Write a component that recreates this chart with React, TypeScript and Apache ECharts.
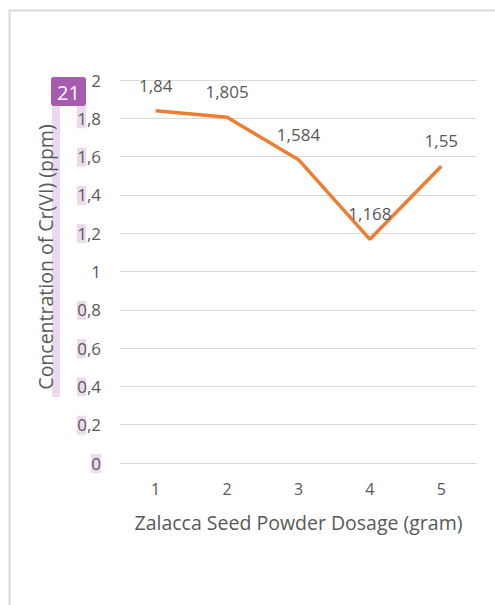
import React, { useEffect, useRef } from "react";
import * as echarts from "echarts";

const categories = ["1", "2", "3", "4", "5"];
const concentration = [1.84, 1.805, 1.584, 1.168, 1.55];
const highlightedTicks = [0.2, 0.4, 0.6, 0.8, 1.2, 1.4, 1.6, 1.8];
const xTitle = "Zalacca Seed Powder Dosage (gram)";
const yTitle = "Concentration of Cr(VI) (ppm)";
const badgeText = "21";

const FONT = "Open Sans";
const TXT = "#595959";

const fmt = (v: number) => String(Math.round(v * 1000) / 1000).replace(".", ",");

export default function App() {
  const ref = useRef<HTMLDivElement>(null);
  useEffect(() => {
    document.body.style.margin = "0";
    const chart = echarts.init(ref.current!, undefined, { renderer: "svg" });
    const gridTop = 80;
    const gridBottom = 463;
    const yOf = (v: number) => gridBottom - (v / 2) * (gridBottom - gridTop);
    const boxes: any[] = highlightedTicks.map((v) => ({
      type: "rect",
      z: -1,
      shape: { x: 77, y: yOf(v) - 9, width: 9, height: 19 },
      style: { fill: "#EBD9EE" },
    }));
    boxes.push({
      type: "rect",
      z: -1,
      shape: { x: 77, y: 100, width: 9, height: 28 },
      style: { fill: "#EBD9EE" },
    });
    boxes.push({
      type: "rect",
      z: -1,
      shape: { x: 91, y: yOf(0) - 9, width: 10, height: 19 },
      style: { fill: "#EBD9EE" },
    });
    chart.setOption({
      animation: false,
      grid: { left: 120, right: 18, top: gridTop, bottom: 605 - gridBottom },
      xAxis: {
        type: "category",
        data: categories,
        boundaryGap: true,
        axisLine: { show: false },
        axisTick: { show: false },
        axisLabel: { color: TXT, fontSize: 16, fontFamily: FONT, margin: 18 },
      },
      yAxis: {
        type: "value",
        min: 0,
        max: 2,
        interval: 0.2,
        axisLine: { show: false },
        axisTick: { show: false },
        axisLabel: {
          color: TXT,
          fontSize: 17,
          fontFamily: FONT,
          margin: 19,
          formatter: (v: number) => fmt(v),
        },
        splitLine: { lineStyle: { color: "#D9D9D9", width: 1 } },
      },
      series: [
        {
          type: "line",
          data: concentration,
          symbol: "circle",
          symbolSize: 0,
          showSymbol: true,
          lineStyle: { color: "#ED7D31", width: 3.5 },
          itemStyle: { color: "#ED7D31" },
          label: {
            show: true,
            position: "top",
            distance: 17,
            color: TXT,
            fontSize: 17,
            fontFamily: FONT,
            formatter: (p: any) => fmt(p.value),
          },
        },
      ],
      graphic: [
        {
          type: "line",
          shape: { x1: 9, y1: 10.5, x2: 495, y2: 10.5 },
          style: { stroke: "#D9D9D9", lineWidth: 2 },
        },
        {
          type: "line",
          shape: { x1: 9.5, y1: 10, x2: 9.5, y2: 605 },
          style: { stroke: "#D9D9D9", lineWidth: 2 },
        },
        ...boxes,
        {
          type: "rect",
          z: -1,
          shape: { x: 52, y: 100, width: 8, height: 297 },
          style: { fill: "#EBD9EE" },
        },
        {
          type: "rect",
          z: 10,
          shape: { x: 51, y: 77, width: 35, height: 29, r: 3 },
          style: { fill: "#A65BAE" },
        },
        {
          type: "text",
          z: 11,
          x: 68.5,
          y: 92,
          style: {
            text: badgeText,
            fill: "#FFFFFF",
            font: `20px ${FONT}`,
            align: "center",
            verticalAlign: "middle",
          },
        },
        {
          type: "text",
          x: 45,
          y: 257,
          rotation: Math.PI / 2,
          style: {
            text: yTitle,
            fill: TXT,
            font: `19.5px ${FONT}`,
            align: "center",
            verticalAlign: "middle",
          },
        },
        {
          type: "text",
          x: 298.5,
          y: 522,
          style: {
            text: xTitle,
            fill: TXT,
            font: `19.5px ${FONT}`,
            align: "center",
            verticalAlign: "middle",
          },
        },
      ],
    });
    return () => chart.dispose();
  }, []);
  return <div ref={ref} style={{ width: 495, height: 605 }} />;
}
